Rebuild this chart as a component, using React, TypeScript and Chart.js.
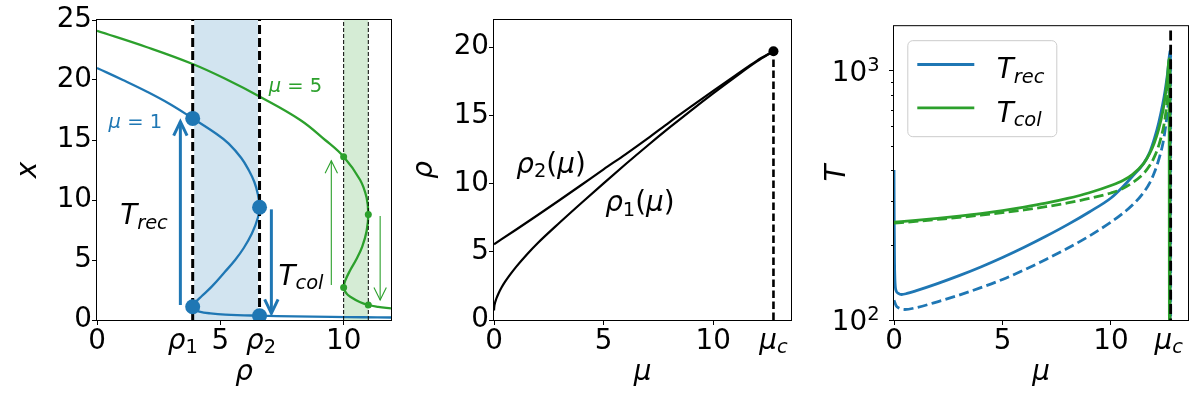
import React, { useEffect, useRef } from 'react';
import { Chart, registerables } from 'chart.js';

Chart.register(...registerables);

const FONT = '"DejaVu Sans", sans-serif';
const BLUE = '#1f77b4';
const GREEN = '#2ca02c';
const FS = 27.8;

// ---------------- Panel 1 : x versus rho ----------------
const P1_X_TICKS = [0, 5, 10];
const P1_Y_TICKS = [0, 5, 10, 15, 20, 25];
const P1_RHO_MAX = 11.92;
const P1_X_MAX = 25;
const RHO1_MU1 = 3.88;
const RHO2_MU1 = 6.59;
const RHO1_MU5 = 10.0;
const RHO2_MU5 = 11.0;

const CURVE_MU1_X = [21.0, 20.0, 19.0, 18.0, 16.8, 15.5, 14.7, 13.5, 12.5, 11.5, 10.5, 9.4, 8.5, 7.2, 6.0, 5.0, 4.0, 2.8, 2.0, 1.5, 1.1, 0.9, 0.7, 0.55, 0.45, 0.36, 0.3, 0.26, 0.23, 0.21];
const CURVE_MU1_RHO = [0, 1.05, 2.05, 2.95, 3.88, 4.85, 5.34, 5.85, 6.15, 6.38, 6.52, 6.59, 6.52, 6.28, 5.95, 5.6, 5.18, 4.66, 4.25, 4.0, 3.88, 3.92, 4.15, 4.6, 5.2, 6.59, 8.0, 9.5, 10.8, 11.92];

const CURVE_MU5_X = [24.1, 22.75, 21.33, 20.0, 18.67, 16.67, 15.0, 13.6, 11.67, 10.2, 8.8, 7.4, 6.1, 5.0, 4.17, 3.3, 2.7, 2.2, 1.94, 1.5, 1.25, 1.1, 0.97];
const CURVE_MU5_RHO = [0, 2.0, 3.88, 5.3, 6.55, 8.24, 9.25, 10.0, 10.67, 10.93, 11.0, 10.93, 10.75, 10.5, 10.27, 10.07, 10.0, 10.12, 10.27, 10.65, 11.0, 11.4, 11.92];

const DOTS_MU1_RHO = [3.88, 6.59, 3.88, 6.59];
const DOTS_MU1_X = [16.8, 9.4, 1.1, 0.36];
const DOTS_MU5_RHO = [10.0, 11.0, 10.0, 11.0];
const DOTS_MU5_X = [13.6, 8.8, 2.7, 1.25];

const ARROW_RHO = [3.38, 7.07, 9.5, 11.48];
const ARROW_FROM = [1.25, 9.22, 2.92, 8.67];
const ARROW_TO = [16.53, 0.56, 13.28, 1.67];
const ARROW_COLOR = [BLUE, BLUE, GREEN, GREEN];

// ---------------- Panel 2 : rho versus mu ----------------
const P2_X_TICKS = [0, 5, 10];
const P2_Y_TICKS = [0, 5, 10, 15, 20];
const P2_X_MAX = 13.55;
const P2_Y_MAX = 22;
const MU_C = 12.75;
const RHO_C = 19.71;
const MU_GRID_R1 = [0, 0.01, 0.05, 0.1, 0.2, 0.35, 0.5, 0.7, 1, 1.5, 2, 3, 4, 5, 6, 7, 8, 9, 10, 11, 12, 12.75];
const RHO1_CURVE = [0.7, 0.95, 1.28, 1.54, 1.93, 2.4, 2.79, 3.25, 3.88, 4.81, 5.65, 7.15, 8.6, 10.02, 11.42, 12.78, 14.1, 15.38, 16.62, 17.82, 18.97, 19.71];
const MU_GRID_R2 = [0, 1, 2, 3, 4, 5, 6, 7, 8, 9, 10, 11, 12, 12.75];
const RHO2_CURVE = [5.55, 6.62, 7.7, 8.8, 9.92, 11.05, 12.15, 13.3, 14.5, 15.66, 16.8, 17.92, 19.02, 19.71];

// ---------------- Panel 3 : T versus mu (log) ----------------
const P3_X_TICKS = [0, 5, 10];
const P3_Y_TICKS = [100, 1000];
const P3_Y_TICK_EXP = ['2', '3'];
const P3_Y_MINOR = [200, 300, 400, 500, 600, 700, 800, 900];
const P3_X_MAX = 13.55;
const P3_Y_MIN = 100;
const P3_Y_MAX = 1513;

const MU_TREC = [0, 0.01, 0.025, 0.05, 0.1, 0.2, 0.35, 0.6, 1, 2, 3, 4, 5, 6, 7, 8, 9, 10, 10.55, 11, 11.5, 11.78, 12, 12.2, 12.39, 12.5, 12.6, 12.66, 12.72, 12.722];
const TREC = [400, 250, 170, 140, 131, 128, 126.6, 127.8, 130.9, 140.0, 150.7, 163.3, 178.2, 195.9, 216.8, 241.5, 271.6, 309.0, 342.8, 378.4, 424.6, 469.9, 534.6, 619.4, 739.6, 839.5, 966.1, 1078.9, 1205.0, 10];

const MU_TCOL = [0, 1, 2, 3, 4, 5, 6, 7, 8, 9, 10, 10.55, 11, 11.5, 11.78, 12, 12.2, 12.39, 12.5, 12.6, 12.68, 12.7];
const TCOL = [247.2, 251.2, 255.9, 261.2, 267.3, 274.8, 283.8, 294.4, 307.6, 324.3, 346.7, 363.1, 384.6, 424.6, 465.6, 515.2, 583.4, 688.7, 790.7, 941.9, 1117, 10];

const MU_TREC_D = [0, 0.1, 0.2, 0.5, 1, 2, 3, 4, 5, 6, 7, 8, 9, 10, 10.5, 11, 11.5, 11.8, 12, 12.2, 12.39, 12.52, 12.62, 12.7, 12.75, 12.752];
const TREC_D = [120, 114, 112, 110.2, 112, 118.3, 125.9, 134.9, 145.5, 158.9, 175.0, 194.1, 217.3, 247.2, 266, 290, 325, 357, 391, 440, 510, 600, 711, 900, 1150, 10];

const MU_TCOL_D = [0, 1, 2, 3, 4, 5, 6, 7, 8, 9, 10, 10.5, 11, 11.5, 11.8, 12, 12.2, 12.4, 12.5, 12.6, 12.68, 12.72, 12.722];
const TCOL_D = [244.9, 248.9, 253.5, 258.2, 263.6, 269.8, 276.7, 285.1, 295.1, 307.6, 323.6, 335.7, 356.5, 387.3, 418.8, 451.9, 501.2, 583.4, 653.1, 776.2, 944.1, 1071.5, 10];

// ---------------- helpers ----------------
type Seg = { t: string; it?: boolean; sub?: boolean; sup?: boolean };

const zip = (xs: number[], ys: number[]) => xs.map((x, i) => ({ x, y: ys[i] }));

function drawMath(ctx: CanvasRenderingContext2D, segs: Seg[], x: number, y: number, size: number, color: string, align: 'left' | 'center' | 'right' = 'left') {
  ctx.save();
  ctx.fillStyle = color;
  ctx.textBaseline = 'alphabetic';
  ctx.textAlign = 'left';
  const f = (s: Seg) => `${s.it ? 'italic ' : ''}${s.sub || s.sup ? size * 0.7 : size}px ${FONT}`;
  let w = 0;
  const ws = segs.map((s) => {
    ctx.font = f(s);
    const m = ctx.measureText(s.t).width;
    w += m;
    return m;
  });
  let cx = align === 'center' ? x - w / 2 : align === 'right' ? x - w : x;
  segs.forEach((s, i) => {
    ctx.font = f(s);
    const dy = s.sub ? size * 0.16 : s.sup ? -size * 0.36 : 0;
    ctx.fillText(s.t, cx, y + dy);
    cx += ws[i];
  });
  ctx.restore();
}

function drawArrow(ctx: CanvasRenderingContext2D, x0: number, y0: number, x1: number, y1: number, color: string, lw: number, head: number, hw: number) {
  ctx.save();
  ctx.strokeStyle = color;
  ctx.lineWidth = lw;
  ctx.lineCap = 'butt';
  ctx.lineJoin = 'miter';
  ctx.beginPath();
  ctx.moveTo(x0, y0);
  ctx.lineTo(x1, y1);
  ctx.stroke();
  const ang = Math.atan2(y1 - y0, x1 - x0);
  const bx = x1 - head * Math.cos(ang);
  const by = y1 - head * Math.sin(ang);
  const px = -Math.sin(ang) * hw;
  const py = Math.cos(ang) * hw;
  ctx.beginPath();
  ctx.moveTo(bx + px, by + py);
  ctx.lineTo(x1, y1);
  ctx.lineTo(bx - px, by - py);
  ctx.stroke();
  ctx.restore();
}

const frame = (chart: any) => {
  const { ctx, chartArea: a } = chart;
  ctx.save();
  ctx.strokeStyle = '#000';
  ctx.lineWidth = 1;
  ctx.strokeRect(a.left - 0.5, a.top - 0.5, a.width + 1, a.height + 1);
  ctx.restore();
};

function xScale(min: number, max: number, ticks: number[], title: string, height: number) {
  return {
    type: 'linear',
    position: 'bottom',
    min,
    max,
    afterBuildTicks: (s: any) => {
      s.ticks = ticks.map((v) => ({ value: v }));
    },
    afterFit: (s: any) => {
      s.height = height;
    },
    grid: { display: true, drawOnChartArea: false, drawTicks: true, tickLength: 5, color: '#000', lineWidth: 1 },
    border: { display: false },
    ticks: { font: { size: FS, family: FONT }, color: '#000', padding: 0, maxRotation: 0, autoSkip: false, callback: (v: any) => String(v) },
    title: { display: true, text: title, color: '#000', font: { size: FS, family: FONT, style: 'italic' }, padding: { top: 0, bottom: 10.7 } },
  };
}

function yScale(type: string, min: number, max: number, ticks: number[], labels: string[], title: string, width: number, tickPad: number, titlePad: number) {
  return {
    type,
    position: 'left',
    min,
    max,
    afterBuildTicks: (s: any) => {
      s.ticks = ticks.map((v) => ({ value: v }));
    },
    afterFit: (s: any) => {
      s.width = width;
    },
    grid: { display: true, drawOnChartArea: false, drawTicks: true, tickLength: 5, color: '#000', lineWidth: 1 },
    border: { display: false },
    ticks: {
      font: { size: FS, family: FONT },
      color: '#000',
      padding: tickPad,
      autoSkip: false,
      callback: (v: any) => {
        const i = ticks.indexOf(Number(v));
        return i >= 0 ? labels[i] : '';
      },
    },
    title: { display: true, text: title, color: '#000', font: { size: FS, family: FONT, style: 'italic' }, padding: { top: titlePad, bottom: 0 } },
  };
}

const baseOpts = (padRight: number) => ({
  responsive: false,
  animation: false as const,
  devicePixelRatio: 1,
  events: [] as any[],
  layout: { padding: { left: 0, top: 20, right: padRight, bottom: 0 } },
  plugins: { legend: { display: false }, tooltip: { enabled: false } },
});

const lineDs = (data: any[], color: string, width: number, extra: any = {}) => ({
  data,
  showLine: true,
  borderColor: color,
  borderWidth: width,
  pointRadius: 0,
  fill: false,
  ...extra,
});

// ---------------- configs ----------------
function config1(): any {
  const plugin = {
    id: 'p1deco',
    beforeDatasetsDraw(chart: any) {
      const { ctx, chartArea: a, scales } = chart;
      const xs = scales.x;
      ctx.save();
      ctx.fillStyle = 'rgba(31,119,180,0.2)';
      const b0 = xs.getPixelForValue(RHO1_MU1);
      const b1 = xs.getPixelForValue(RHO2_MU1);
      ctx.fillRect(b0, a.top, b1 - b0, a.height);
      ctx.fillStyle = 'rgba(44,160,44,0.2)';
      const g0 = xs.getPixelForValue(RHO1_MU5);
      const g1 = xs.getPixelForValue(RHO2_MU5);
      ctx.fillRect(g0, a.top, g1 - g0, a.height);
      ctx.restore();
    },
    afterDatasetsDraw(chart: any) {
      const { ctx, scales } = chart;
      const xs = scales.x;
      const ys = scales.y;
      ARROW_RHO.forEach((r, i) => {
        const thick = ARROW_COLOR[i] === BLUE;
        drawArrow(ctx, xs.getPixelForValue(r), ys.getPixelForValue(ARROW_FROM[i]), xs.getPixelForValue(r), ys.getPixelForValue(ARROW_TO[i]), ARROW_COLOR[i], thick ? 3 : 1.1, thick ? 14 : 12.5, thick ? 6.7 : 6.2);
      });
      const texts: { segs: Seg[]; at: number[]; size: number; color: string }[] = [
        { segs: [{ t: 'μ', it: true }, { t: ' = 1' }], at: [0.47, 15.97], size: 19.5, color: BLUE },
        { segs: [{ t: 'μ', it: true }, { t: ' = 5' }], at: [6.96, 19.03], size: 19.5, color: GREEN },
        { segs: [{ t: 'T', it: true }, { t: 'rec', it: true, sub: true }], at: [0.94, 7.97], size: FS, color: '#000' },
        { segs: [{ t: 'T', it: true }, { t: 'col', it: true, sub: true }], at: [7.36, 2.92], size: FS, color: '#000' },
      ];
      texts.forEach((t) => drawMath(ctx, t.segs, xs.getPixelForValue(t.at[0]), ys.getPixelForValue(t.at[1]), t.size, t.color));
    },
    afterDraw(chart: any) {
      frame(chart);
      const { ctx, chartArea: a, scales } = chart;
      const xs = scales.x;
      drawMath(ctx, [{ t: 'ρ', it: true }, { t: '1', sub: true }], xs.getPixelForValue(3.48), a.bottom + 28.5, FS, '#000', 'center');
      drawMath(ctx, [{ t: 'ρ', it: true }, { t: '2', sub: true }], xs.getPixelForValue(6.65), a.bottom + 28.5, FS, '#000', 'center');
    },
  };
  return {
    type: 'scatter',
    data: {
      datasets: [
        { data: zip(DOTS_MU1_RHO, DOTS_MU1_X), pointRadius: 7.5, pointBackgroundColor: BLUE, pointBorderWidth: 0, clip: 0, order: 0 },
        { data: zip(DOTS_MU5_RHO, DOTS_MU5_X), pointRadius: 3.5, pointBackgroundColor: GREEN, pointBorderWidth: 0, clip: 0, order: 0 },
        lineDs([{ x: RHO1_MU1, y: 0 }, { x: RHO1_MU1, y: P1_X_MAX }], '#000', 3, { borderDash: [9, 4], order: 1 }),
        lineDs([{ x: RHO2_MU1, y: 0 }, { x: RHO2_MU1, y: P1_X_MAX }], '#000', 3, { borderDash: [9, 4], order: 1 }),
        lineDs([{ x: RHO1_MU5, y: 0 }, { x: RHO1_MU5, y: P1_X_MAX }], '#000', 1, { borderDash: [4, 2], order: 1 }),
        lineDs([{ x: RHO2_MU5, y: 0 }, { x: RHO2_MU5, y: P1_X_MAX }], '#000', 1, { borderDash: [4, 2], order: 1 }),
        lineDs(zip(CURVE_MU1_RHO, CURVE_MU1_X), BLUE, 2.3, { tension: 0.4, order: 2 }),
        lineDs(zip(CURVE_MU5_RHO, CURVE_MU5_X), GREEN, 2.3, { tension: 0.4, order: 2 }),
        lineDs([{ x: RHO1_MU1, y: 0 }, { x: RHO1_MU1, y: P1_X_MAX }], '#ffffff', 3, { order: 3 }),
        lineDs([{ x: RHO2_MU1, y: 0 }, { x: RHO2_MU1, y: P1_X_MAX }], '#ffffff', 3, { order: 3 }),
      ],
    },
    options: {
      ...baseOpts(9),
      scales: {
        x: xScale(0, P1_RHO_MAX, P1_X_TICKS, 'ρ', 80),
        y: yScale('linear', 0, P1_X_MAX, P1_Y_TICKS, P1_Y_TICKS.map(String), 'x', 97, 0, 11.8),
      },
    },
    plugins: [plugin],
  };
}

function config2(): any {
  const plugin = {
    id: 'p2deco',
    afterDatasetsDraw(chart: any) {
      const { ctx, scales } = chart;
      const xs = scales.x;
      const ys = scales.y;
      drawMath(ctx, [{ t: 'ρ', it: true }, { t: '2', sub: true }, { t: '(' }, { t: 'μ', it: true }, { t: ')' }], xs.getPixelForValue(1.02), ys.getPixelForValue(10.78), FS, '#000');
      drawMath(ctx, [{ t: 'ρ', it: true }, { t: '1', sub: true }, { t: '(' }, { t: 'μ', it: true }, { t: ')' }], xs.getPixelForValue(5.07), ys.getPixelForValue(7.96), FS, '#000');
    },
    afterDraw(chart: any) {
      frame(chart);
      const { ctx, chartArea: a, scales } = chart;
      drawMath(ctx, [{ t: 'μ', it: true }, { t: 'c', it: true, sub: true }], scales.x.getPixelForValue(MU_C), a.bottom + 28.5, FS, '#000', 'center');
    },
  };
  return {
    type: 'scatter',
    data: {
      datasets: [
        { data: [{ x: MU_C, y: RHO_C }], pointRadius: 5, pointBackgroundColor: '#000', pointBorderWidth: 0, order: 0 },
        lineDs([{ x: MU_C, y: 0 }, { x: MU_C, y: RHO_C }], '#000', 2.6, { borderDash: [7.5, 3.5], order: 1 }),
        lineDs(zip(MU_GRID_R1, RHO1_CURVE), '#000', 2.2, { cubicInterpolationMode: 'monotone', order: 2 }),
        lineDs(zip(MU_GRID_R2, RHO2_CURVE), '#000', 2.2, { cubicInterpolationMode: 'monotone', order: 2 }),
      ],
    },
    options: {
      ...baseOpts(9),
      scales: {
        x: xScale(0, P2_X_MAX, P2_X_TICKS, 'μ', 80),
        y: yScale('linear', 0, P2_Y_MAX, P2_Y_TICKS, P2_Y_TICKS.map(String), 'ρ', 94, 0, 8.4),
      },
    },
    plugins: [plugin],
  };
}

function config3(): any {
  const plugin = {
    id: 'p3deco',
    afterDatasetsDraw(chart: any) {
      const { ctx, chartArea: a } = chart;
      const lx = a.left + 13.3;
      const ly = a.top + 14;
      const w = 149;
      const h = 96;
      ctx.save();
      ctx.beginPath();
      (ctx as any).roundRect(lx + 0.5, ly + 0.5, w, h, 5);
      ctx.fillStyle = 'rgba(255,255,255,0.8)';
      ctx.fill();
      ctx.strokeStyle = '#cccccc';
      ctx.lineWidth = 1;
      ctx.stroke();
      const entries: { c: string; sub: string; dy: number }[] = [
        { c: BLUE, sub: 'rec', dy: 24.3 },
        { c: GREEN, sub: 'col', dy: 67.7 },
      ];
      entries.forEach((e) => {
        ctx.strokeStyle = e.c;
        ctx.lineWidth = 2.8;
        ctx.beginPath();
        ctx.moveTo(lx + 10, ly + e.dy);
        ctx.lineTo(lx + 67, ly + e.dy);
        ctx.stroke();
        drawMath(ctx, [{ t: 'T', it: true }, { t: e.sub, it: true, sub: true }], lx + 89.4, ly + e.dy + 14, FS, '#000');
      });
      ctx.restore();
    },
    afterDraw(chart: any) {
      frame(chart);
      const { ctx, chartArea: a, scales } = chart;
      const ys = scales.y;
      ctx.save();
      ctx.strokeStyle = '#000';
      ctx.lineWidth = 1;
      P3_Y_MINOR.forEach((v) => {
        const py = Math.round(ys.getPixelForValue(v)) + 0.5;
        ctx.beginPath();
        ctx.moveTo(a.left - 3, py);
        ctx.lineTo(a.left, py);
        ctx.stroke();
      });
      ctx.restore();
      P3_Y_TICKS.forEach((v, i) => {
        drawMath(ctx, [{ t: '10' }, { t: P3_Y_TICK_EXP[i], sup: true }], a.left - 14.5, ys.getPixelForValue(v) + 0.3645 * FS, FS, '#000', 'right');
      });
      drawMath(ctx, [{ t: 'μ', it: true }, { t: 'c', it: true, sub: true }], scales.x.getPixelForValue(MU_C) - 2, a.bottom + 28.5, FS, '#000', 'center');
    },
  };
  return {
    type: 'scatter',
    data: {
      datasets: [
        lineDs([{ x: MU_C, y: 1 }, { x: MU_C, y: 100000 }], '#000', 2.8, { borderDash: [10, 4.4], order: 0 }),
        lineDs(zip(MU_TCOL, TCOL), GREEN, 2.8, { cubicInterpolationMode: 'monotone', order: 1 }),
        lineDs(zip(MU_TCOL_D, TCOL_D), GREEN, 2.8, { cubicInterpolationMode: 'monotone', borderDash: [10, 4.4], order: 2 }),
        lineDs(zip(MU_TREC, TREC), BLUE, 2.8, { cubicInterpolationMode: 'monotone', order: 3 }),
        lineDs(zip(MU_TREC_D, TREC_D), BLUE, 2.8, { cubicInterpolationMode: 'monotone', borderDash: [10, 4.4], order: 4 }),
      ],
    },
    options: {
      ...baseOpts(12),
      scales: {
        x: xScale(0, P3_X_MAX, P3_X_TICKS, 'μ', 80),
        y: yScale('logarithmic', P3_Y_MIN, P3_Y_MAX, P3_Y_TICKS, ['', ''], 'T', 94, 9.5, 20.8),
      },
    },
    plugins: [plugin],
  };
}

export default function App() {
  const c1 = useRef<HTMLCanvasElement>(null);
  const c2 = useRef<HTMLCanvasElement>(null);
  const c3 = useRef<HTMLCanvasElement>(null);

  useEffect(() => {
    Chart.defaults.font.family = FONT;
    Chart.defaults.color = '#000';
    const charts = [
      new Chart(c1.current as HTMLCanvasElement, config1()),
      new Chart(c2.current as HTMLCanvasElement, config2()),
      new Chart(c3.current as HTMLCanvasElement, config3()),
    ];
    return () => charts.forEach((c) => c.destroy());
  }, []);

  const cs: React.CSSProperties = { position: 'absolute', top: 0, width: 400, height: 400, display: 'block' };
  return (
    <div style={{ position: 'fixed', left: 0, top: 0, width: 1200, height: 400, background: '#fff' }}>
      <canvas ref={c1} width={400} height={400} style={{ ...cs, left: 0 }} />
      <canvas ref={c2} width={400} height={400} style={{ ...cs, left: 400 }} />
      <canvas ref={c3} width={400} height={400} style={{ ...cs, left: 800 }} />
    </div>
  );
}
